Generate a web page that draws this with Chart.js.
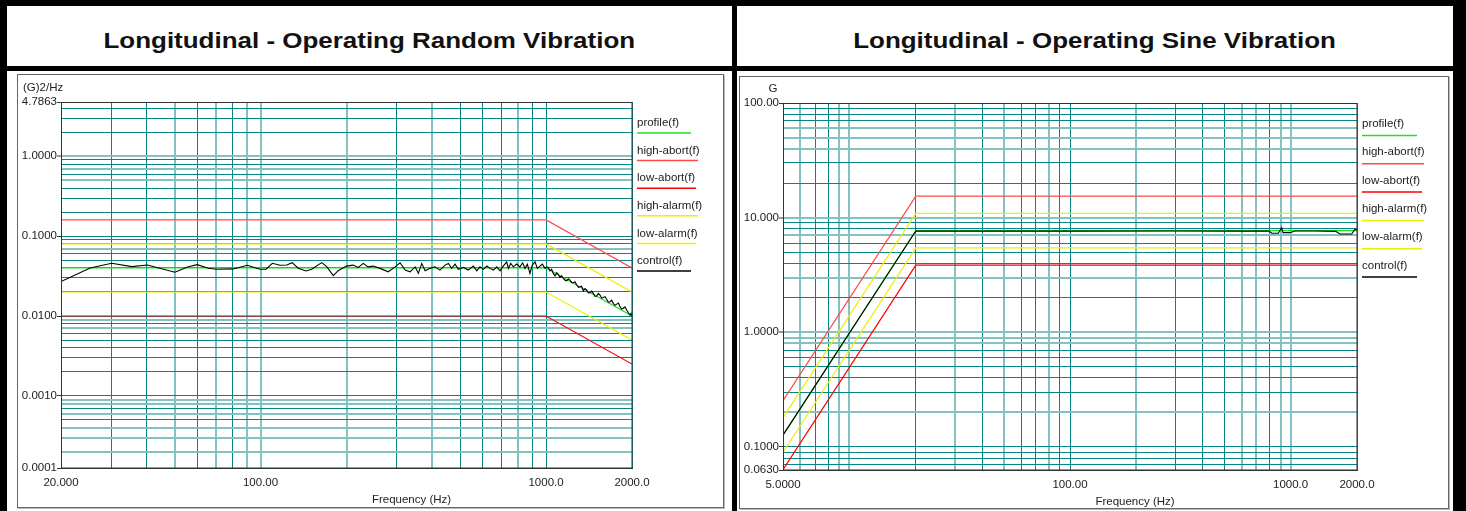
<!DOCTYPE html>
<html>
<head>
<meta charset="utf-8">
<script src="https://cdn.jsdelivr.net/npm/chart.js@4.4.1/dist/chart.umd.min.js"></script>
<style>
body { margin: 0; width: 1466px; height: 511px; overflow: hidden; background: #fff; position: relative;
       font-family: "Liberation Sans", Arial, sans-serif; }
.bar { position: absolute; background: #000; }
.title { position: absolute; top: 30px; font-weight: bold; font-size: 22px; line-height: 22px; text-align: center; color: #111; }
.title span { display: inline-block; transform: scaleX(1.18); }
.box { position: absolute; border: 1px solid #666; box-shadow: 1px 1px 0 #bbb; box-sizing: border-box; }
canvas { position: absolute; }
</style>
</head>
<body>
<div class="bar" style="left:0;top:0;width:1466px;height:6px"></div>
<div class="bar" style="left:0;top:66px;width:1466px;height:5px"></div>
<div class="bar" style="left:0;top:0;width:7px;height:511px"></div>
<div class="bar" style="left:732px;top:0;width:5px;height:511px"></div>
<div class="bar" style="left:1453px;top:0;width:13px;height:511px"></div>

<div class="title" style="left:7px;width:725px"><span>Longitudinal - Operating Random Vibration</span></div>
<div class="title" style="left:737px;width:716px"><span>Longitudinal - Operating Sine Vibration</span></div>

<div class="box" style="left:17px;top:74px;width:707px;height:434px"></div>
<div class="box" style="left:739px;top:76px;width:710px;height:433px"></div>

<canvas id="randomChart" width="704" height="431" style="left:18px;top:75px"></canvas>
<canvas id="sineChart" width="707" height="430" style="left:740px;top:77px"></canvas>

<script>
// Legend names (same for both charts)
const seriesNames = ['profile(f)', 'high-abort(f)', 'low-abort(f)', 'high-alarm(f)', 'low-alarm(f)', 'control(f)'];
const seriesColors = ['#22e022', '#ff4a4a', '#ff0000', '#eeee00', '#eeee00', '#000000'];

// ---- Random vibration (left) ----
const randomFreq = [20, 1000, 2000];
const randomProfile = [0.04, 0.04, 0.01];
const randomHighAbort = [0.16, 0.16, 0.04];
const randomLowAbort = [0.01, 0.01, 0.0025];
const randomHighAlarm = [0.08, 0.08, 0.02];
const randomLowAlarm = [0.02, 0.02, 0.005];

const randomControlFreq = [20, 25.3, 30.1, 35.4, 40.1, 50.1, 55.8, 60, 65.6, 70.2,
  80.2, 89.9, 99.5, 104.5, 110, 117, 123.5, 129, 135.5, 144.2,
  151, 163.7, 170.5, 179.8, 187, 200, 211, 220, 229, 238,
  248, 262, 280, 296, 308, 321, 334, 348, 357, 367,
  377, 392, 408, 425, 443, 455, 467, 480, 493, 513,
  534, 556, 572, 587, 603, 620, 636, 654, 672, 690,
  708, 728, 738, 752, 768, 789, 810, 828, 844, 860,
  878, 895, 915, 932, 952, 970, 992,
  1005, 1018, 1032, 1046, 1060, 1075, 1090, 1104, 1119, 1134,
  1149, 1165, 1181, 1197, 1213, 1230, 1246, 1263, 1281, 1298,
  1315, 1332, 1350, 1369, 1388, 1406, 1425, 1444, 1464, 1484,
  1504, 1524, 1545, 1566, 1587, 1609, 1631, 1653, 1675, 1697,
  1720, 1744, 1768, 1792, 1816, 1840, 1864, 1890, 1916, 1942,
  1968, 1985, 2000];
const randomControl = [0.027, 0.040, 0.0458, 0.0415, 0.0436, 0.0354, 0.0415, 0.044, 0.0397, 0.0386,
  0.0389, 0.0432, 0.0386, 0.0386, 0.0458, 0.0432, 0.0436, 0.0466, 0.0397, 0.0367,
  0.0386, 0.0466, 0.0415, 0.032, 0.037, 0.0422, 0.0434, 0.0406, 0.0456, 0.0413,
  0.0422, 0.0395, 0.0358, 0.0413, 0.0464, 0.0376, 0.0358, 0.0413, 0.0342, 0.0456,
  0.0368, 0.0395, 0.0413, 0.0376, 0.0434, 0.0456, 0.0395, 0.0447, 0.0384, 0.0406,
  0.0376, 0.0422, 0.0368, 0.0413, 0.0384, 0.0422, 0.0395, 0.0376, 0.0413, 0.0368,
  0.0422, 0.0477, 0.0395, 0.0456, 0.0413, 0.0447, 0.0413, 0.0464, 0.0395, 0.0447,
  0.0342, 0.0434, 0.0477, 0.0395, 0.0422, 0.0447, 0.0395,
  0.0413, 0.0405, 0.0368, 0.0385, 0.0342, 0.0318, 0.0348, 0.0331, 0.0305, 0.0318,
  0.0296, 0.0281, 0.0276, 0.0292, 0.0282, 0.0262, 0.0261, 0.0268, 0.0244, 0.0228,
  0.0232, 0.0236, 0.0207, 0.0221, 0.0211, 0.0195, 0.0196, 0.0205, 0.0192, 0.0176,
  0.0178, 0.0192, 0.0183, 0.0168, 0.0171, 0.0175, 0.0162, 0.0149, 0.0151, 0.0158,
  0.0144, 0.0136, 0.0141, 0.0145, 0.0131, 0.0122, 0.0125, 0.0130, 0.0119, 0.0110,
  0.0103, 0.0108, 0.0100];

const randomXMin = 20, randomXMax = 2000;
const randomYMin = 0.000125, randomYMax = 4.7863;
const randomXTickVals = [20, 100, 1000, 2000];
const randomXTickText = ['20.000', '100.00', '1000.0', '2000.0'];
const randomYTickVals = [4.7863, 1, 0.1, 0.01, 0.001, 0.000125];
const randomYTickText = ['4.7863', '1.0000', '0.1000', '0.0100', '0.0010', '0.0001'];

// ---- Sine vibration (right) ----
const sineFreq = [5, 20, 2000];
const sineProfile = [0.127, 7.7, 7.7];
const sineHighAbort = [0.254, 15.4, 15.4];
const sineLowAbort = [0.0635, 3.85, 3.85];
const sineHighAlarm = [0.18, 10.9, 10.9];
const sineLowAlarm = [0.09, 5.45, 5.45];

const sineControlFreq = [5, 20, 100, 300, 600, 800, 821, 880, 911, 924, 994, 1047, 1300, 1600, 1675, 1892, 1958, 2000];
const sineControl = [0.127, 7.65, 7.63, 7.65, 7.63, 7.65, 7.31, 7.31, 8.18, 7.4, 7.4, 7.65, 7.65, 7.6, 7.21, 7.21, 7.92, 7.8];

const sineXMin = 5, sineXMax = 2000;
const sineYMin = 0.063, sineYMax = 100;
const sineXTickVals = [5, 100, 1000, 2000];
const sineXTickText = ['5.0000', '100.00', '1000.0', '2000.0'];
const sineYTickVals = [100, 10, 1, 0.1, 0.063];
const sineYTickText = ['100.00', '10.000', '1.0000', '0.1000', '0.0630'];

const FONT = '"Liberation Sans", Arial, sans-serif';

// Minor log grid (1..9 x 10^n) between min and max, plus the ends
function logGrid(min, max) {
    const vals = [min];
    for (let e = Math.floor(Math.log10(min)); e <= Math.ceil(Math.log10(max)); e++) {
        for (let m = 1; m <= 9; m++) {
            const v = Number((m * Math.pow(10, e)).toPrecision(6));
            if (v > min && v < max) vals.push(v);
        }
    }
    vals.push(max);
    return vals;
}

function labelFor(vals, texts, v) {
    for (let i = 0; i < vals.length; i++) {
        if (Math.abs(vals[i] - v) / vals[i] < 1e-6) return texts[i];
    }
    return '';
}

function pts(xs, ys) {
    return xs.map((x, i) => ({ x: x, y: ys[i] }));
}

// grid lines that fall between pixels look soft and wide in the original
function gridSoft(ctx) {
    if (!ctx.tick) return false;
    const px = ctx.scale.getPixelForValue(ctx.tick.value);
    if (!isFinite(px)) return false;
    const f = px - Math.floor(px);
    return f > 0.3 && f < 0.7;
}
const gridColor = ctx => (gridSoft(ctx) ? '#84c2c2' : '#058585');
const gridWidth = ctx => (gridSoft(ctx) ? 2 : 1);

// Frame, legend and axis titles
const decorPlugin = {
    id: 'decor',
    afterDraw(chart, args, o) {
        const ctx = chart.ctx;
        const a = chart.chartArea;
        ctx.save();
        ctx.strokeStyle = '#333';
        ctx.lineWidth = 1;
        ctx.strokeRect(a.left + 0.5, a.top + 0.5, a.right - a.left - 0.5, a.bottom - a.top - 0.5);

        ctx.font = '11.5px ' + FONT;
        ctx.textBaseline = 'middle';
        ctx.textAlign = 'left';
        chart.data.datasets.forEach((ds, i) => {
            const y = a.top + o.legendTop + i * o.legendGap;
            ctx.fillStyle = '#222';
            ctx.fillText(ds.label, a.right + 5, y);
            ctx.strokeStyle = ds.borderColor;
            ctx.lineWidth = 1.5;
            ctx.beginPath();
            ctx.moveTo(a.right + 5, y + o.underDy);
            ctx.lineTo(a.right + 5 + o.underline[i], y + o.underDy);
            ctx.stroke();
        });

        ctx.fillStyle = '#222';
        ctx.textAlign = o.yTitleAlign;
        ctx.fillText(o.yTitle, a.left + o.yTitleDx, a.top - 14);
        ctx.textAlign = 'center';
        ctx.fillText('Frequency (Hz)', (a.left + a.right) / 2 + 65, a.bottom + 32);
        ctx.restore();
    }
};

function makeChart(id, c) {
    const xGrid = logGrid(c.xMin, c.xMax);
    const yGrid = logGrid(c.yMin, c.yMax);
    const lines = [c.profile, c.highAbort, c.lowAbort, c.highAlarm, c.lowAlarm];
    const orders = [1, 3, 3, 2, 2];
    const datasets = lines.map((vals, i) => ({
        label: seriesNames[i],
        data: pts(c.freq, vals),
        borderColor: seriesColors[i],
        borderWidth: 1.2,
        pointRadius: 0,
        tension: 0,
        order: orders[i]
    }));
    datasets.push({
        label: seriesNames[5],
        data: pts(c.ctrlFreq, c.ctrl),
        borderColor: seriesColors[5],
        borderWidth: 1.1,
        pointRadius: 0,
        tension: 0,
        order: 0
    });

    return new Chart(document.getElementById(id).getContext('2d'), {
        type: 'line',
        data: { datasets: datasets },
        plugins: [decorPlugin],
        options: {
            responsive: false,
            animation: false,
            events: [],
            layout: { padding: { top: c.padTop, right: 90, left: 0, bottom: 0 } },
            plugins: {
                legend: { display: false },
                tooltip: { enabled: false },
                decor: c.decor
            },
            scales: {
                x: {
                    type: 'logarithmic',
                    min: c.xMin,
                    max: c.xMax,
                    afterBuildTicks: s => { s.ticks = xGrid.map(v => ({ value: v })); },
                    afterFit: s => { s.height = c.xHeight; },
                    ticks: {
                        autoSkip: false, maxRotation: 0, padding: 8,
                        color: '#222', font: { family: FONT, size: 11.5 },
                        callback: v => labelFor(c.xTickVals, c.xTickText, v)
                    },
                    grid: { color: gridColor, lineWidth: gridWidth, drawTicks: false },
                    border: { color: '#333', width: 1 }
                },
                y: {
                    type: 'logarithmic',
                    min: c.yMin,
                    max: c.yMax,
                    afterBuildTicks: s => { s.ticks = yGrid.map(v => ({ value: v })); },
                    afterFit: s => { s.width = 43; },
                    ticks: {
                        autoSkip: false, padding: 0,
                        color: '#222', font: { family: FONT, size: 11.5 },
                        callback: v => labelFor(c.yTickVals, c.yTickText, v)
                    },
                    grid: {
                        color: gridColor, lineWidth: gridWidth, tickLength: 4,
                        tickWidth: 1,
                        tickColor: ctx => (ctx.tick && labelFor(c.yTickVals, c.yTickText, ctx.tick.value) ? '#333' : 'rgba(0,0,0,0)')
                    },
                    border: { color: '#333', width: 1 }
                }
            }
        }
    });
}

makeChart('randomChart', {
    freq: randomFreq, profile: randomProfile, highAbort: randomHighAbort, lowAbort: randomLowAbort,
    highAlarm: randomHighAlarm, lowAlarm: randomLowAlarm,
    ctrlFreq: randomControlFreq, ctrl: randomControl,
    xMin: randomXMin, xMax: randomXMax, yMin: randomYMin, yMax: randomYMax,
    xTickVals: randomXTickVals, xTickText: randomXTickText,
    yTickVals: randomYTickVals, yTickText: randomYTickText,
    padTop: 27, xHeight: 38,
    decor: { legendTop: 21, legendGap: 27.6, underDy: 10, underline: [54, 61, 59, 61, 59, 54],
             yTitle: '(G)2/Hz', yTitleAlign: 'left', yTitleDx: -38 }
});

makeChart('sineChart', {
    freq: sineFreq, profile: sineProfile, highAbort: sineHighAbort, lowAbort: sineLowAbort,
    highAlarm: sineHighAlarm, lowAlarm: sineLowAlarm,
    ctrlFreq: sineControlFreq, ctrl: sineControl,
    xMin: sineXMin, xMax: sineXMax, yMin: sineYMin, yMax: sineYMax,
    xTickVals: sineXTickVals, xTickText: sineXTickText,
    yTickVals: sineYTickVals, yTickText: sineYTickText,
    padTop: 26, xHeight: 37,
    decor: { legendTop: 21, legendGap: 28.3, underDy: 11.5, underline: [55, 62, 60, 62, 60, 55],
             yTitle: 'G', yTitleAlign: 'center', yTitleDx: -10 }
});
</script>
</body>
</html>
